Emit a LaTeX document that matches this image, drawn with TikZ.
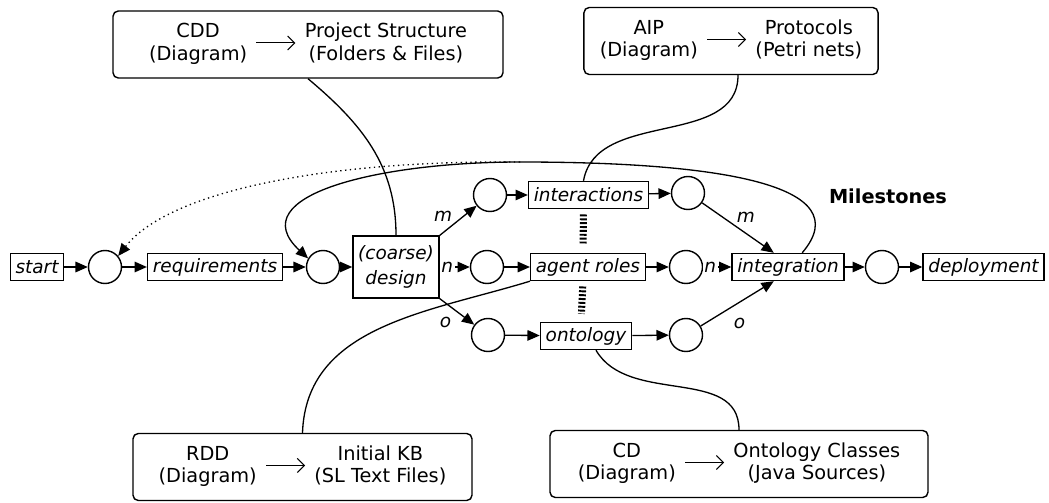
\documentclass[tikz,border=0pt]{standalone}
\usepackage{fontspec}
\setmainfont{DejaVu Sans}[ItalicFont={DejaVu Sans Oblique},BoldFont={DejaVu Sans Bold}]
\usetikzlibrary{arrows.meta}
\newcommand{\artefact}[2]{\begin{tabular}{@{}c@{}}#1\\#2\end{tabular}}
\newcommand{\yields}{\hspace{5pt}\tikz[baseline=-0.6ex]\draw[line width=0.6pt, -{Straight Barb[length=4pt,width=8pt]}] (0,0) -- (0.78,0);\hspace{5pt}}

\begin{document}
\begin{tikzpicture}[
    place/.style={circle, draw, line width=0.8pt, minimum size=0.66cm, inner sep=0pt},
    trans/.style={rectangle, draw, line width=0.8pt, minimum height=0.54cm, inner xsep=3pt, inner ysep=0pt, font=\fontsize{10.5}{12}\selectfont\itshape},
    arc/.style={line width=0.75pt, -{Triangle[length=7pt,width=6pt]}},
    lbl/.style={fill=white, inner sep=1pt, font=\fontsize{10.5}{12}\selectfont\itshape},
    genbox/.style={rectangle, draw, rounded corners=3pt, line width=0.8pt, minimum height=1.34cm, inner xsep=9pt, font=\fontsize{11}{13}\selectfont},
    link/.style={line width=0.75pt},
    excl/.style={line width=4pt, dash pattern=on 1.1pt off 1.1pt, shorten <=3pt, shorten >=4.5pt}
]
    \useasboundingbox (0,-4.7) rectangle (20.98,5.34);

    % Main line of the process
    \node[trans] (start) at (0.74,0) {start};
    \node[place] (p1) at (2.1,0) {};
    \node[trans] (req) at (4.3,0) {requirements};
    \node[place] (p2) at (6.46,0) {};
    \node[trans, align=center, minimum height=1.24cm, font=\fontsize{10.5}{14}\selectfont\itshape] (design) at (7.92,0) {(coarse)\\design};

    % Parallel branches
    \node[place] (pm) at (9.8,1.44) {};
    \node[place] (pn) at (9.74,0) {};
    \node[place] (po) at (9.76,-1.36) {};
    \node[trans] (inter) at (11.77,1.44) {interactions};
    \node[trans] (roles) at (11.76,0) {agent roles};
    \node[trans] (onto) at (11.72,-1.38) {ontology};
    \node[place] (qm) at (13.76,1.48) {};
    \node[place] (qn) at (13.72,0) {};
    \node[place] (qo) at (13.72,-1.36) {};

    \node[trans] (integ) at (15.76,0) {integration};
    \node[place] (p3) at (17.64,0) {};
    \node[trans] (deploy) at (19.67,0) {deployment};

    \node[font=\fontsize{11}{13}\selectfont\bfseries] (milestones) at (17.76,1.42) {Milestones};

    % Generated artefacts
    \node[genbox, minimum width=7.8cm] (cddbox) at (6.16,4.45) {\artefact{CDD}{(Diagram)}\yields\artefact{Project Structure}{(Folders \& Files)}};
    \node[genbox, minimum width=5.76cm] (aipbox) at (14.62,4.52) {\artefact{AIP}{(Diagram)}\yields\artefact{Protocols}{(Petri nets)}};
    \node[genbox, minimum width=6.78cm] (rddbox) at (6.05,-4.0) {\artefact{RDD}{(Diagram)}\yields\artefact{Initial KB}{(SL Text Files)}};
    \node[genbox, minimum width=7.56cm] (cdbox) at (14.78,-3.94) {\artefact{CD}{(Diagram)}\yields\artefact{Ontology Classes}{(Java Sources)}};

    % Arcs
    \draw[arc] (start) -- (p1);
    \draw[arc] (p1) -- (req);
    \draw[arc] (req) -- (p2);
    \draw[arc] (p2) -- (design);
    \draw[arc] (design.north east) -- node[lbl, pos=0.4, above left=0pt] {m} (pm);
    \draw[arc] (design) -- node[lbl, pos=0.25] {n} (pn);
    \draw[arc] (design.south east) -- node[lbl, pos=0.5, below left=2pt] {o} (po);
    \draw[arc] (pm) -- (inter);
    \draw[arc] (pn) -- (roles);
    \draw[arc] (po) -- (onto);
    \draw[arc] (inter) -- (qm);
    \draw[arc] (roles) -- (qn);
    \draw[arc] (onto) -- (qo);
    \draw[arc] (qm) -- node[lbl, pos=0.45, above right=0pt] {m} (integ.135);
    \draw[arc] (qn) -- node[lbl, pos=0.25] {n} (integ);
    \draw[arc] (qo) -- node[lbl, pos=0.35, below right=3pt] {o} (integ.225);
    \draw[arc] (integ) -- (p3);
    \draw[arc] (p3) -- (deploy);

    % Iterations back to earlier phases
    \coordinate (loop) at (10.4,2.1);
    \draw[link] (integ.45) .. controls (17.2,1.64) and (14.4,2.1) .. (loop);
    \draw[arc] (loop) .. controls (7.6,2.1) and (4.8,1.44) .. (p2.150);
    \draw[arc, dotted] (loop) .. controls (6.6,2.14) and (3.4,1.54) .. (p1.40);

    % Concurrent branches
    \draw[excl] ([xshift=-1mm]inter.south) -- ([xshift=-1mm]roles.north);
    \draw[excl] ([xshift=-1mm]roles.south) -- ([xshift=-1mm]onto.north);

    % Links to the artefacts
    \draw[link] (cddbox.south) to[out=-40, in=90] (design.north);
    \draw[link] ([xshift=1.4mm]aipbox.south) to[out=-90, in=80] ([xshift=-1mm]inter.north);
    \draw[link] (rddbox.north) to[out=88, in=197] (roles.south west);
    \draw[link] (cdbox.north) to[out=90, in=-60] ([xshift=2mm]onto.south);
\end{tikzpicture}
\end{document}
